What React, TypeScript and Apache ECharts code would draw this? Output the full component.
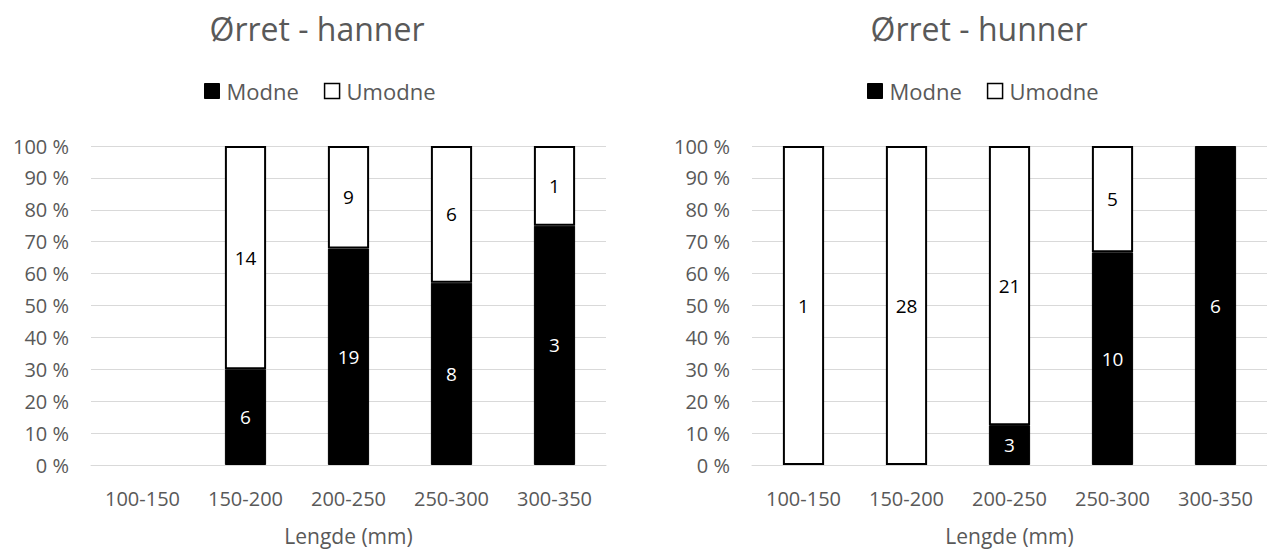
import React, { useEffect, useRef } from "react";
import * as echarts from "echarts";

const categories = ["100-150", "150-200", "200-250", "250-300", "300-350"];
const hannerModne = [0, 6, 19, 8, 3];
const hannerUmodne = [0, 14, 9, 6, 1];
const hunnerModne = [0, 0, 3, 10, 6];
const hunnerUmodne = [1, 28, 21, 5, 0];
const titles = ["Ørret - hanner", "Ørret - hunner"];
const yTicks = [0, 10, 20, 30, 40, 50, 60, 70, 80, 90, 100];

const FONT = "'Open Sans', 'Noto Sans', sans-serif";
const GREY = "#595959";

function pct(a: number[], b: number[], which: number[]) {
  return which.map((v, i) => {
    const t = a[i] + b[i];
    return t === 0 || v === 0 ? "-" : (v / t) * 100;
  });
}

export default function App() {
  const ref = useRef<HTMLDivElement>(null);
  useEffect(() => {
    if (!ref.current) return;
    const chart = echarts.init(ref.current, null, { renderer: "svg" });
    const sets = [
      { m: hannerModne, u: hannerUmodne },
      { m: hunnerModne, u: hunnerUmodne },
    ];
    const gridLefts = [91, 752];
    const series: any[] = [];
    sets.forEach((s, gi) => {
      const mp = pct(s.m, s.u, s.m);
      const up = pct(s.m, s.u, s.u);
      series.push({
        name: "Modne",
        type: "bar",
        stack: "s" + gi,
        xAxisIndex: gi,
        yAxisIndex: gi,
        barWidth: "40%",
        data: mp.map((v, i) => ({ value: v, count: s.m[i] })),
        itemStyle: { color: "#000", borderColor: "#000", borderWidth: 1 },
        label: {
          show: true,
          position: "inside",
          color: "#fff",
          fontSize: 19,
          fontFamily: FONT,
          formatter: (p: any) => (p.data.count ? String(p.data.count) : ""),
        },
      });
      series.push({
        name: "Umodne",
        type: "bar",
        stack: "s" + gi,
        xAxisIndex: gi,
        yAxisIndex: gi,
        barWidth: "40%",
        data: up.map((v, i) => ({ value: v, count: s.u[i] })),
        itemStyle: { color: "#fff", borderColor: "#000", borderWidth: 2 },
        label: {
          show: true,
          position: "inside",
          color: "#000",
          fontSize: 19,
          fontFamily: FONT,
          formatter: (p: any) => (p.data.count ? String(p.data.count) : ""),
        },
      });
    });
    chart.setOption({
      animation: false,
      textStyle: { fontFamily: FONT },
      title: titles.map((t, i) => ({
        text: t,
        left: [312, 974][i],
        textAlign: "center",
        top: 7,
        textStyle: { fontSize: 32, fontWeight: "normal", color: GREY, fontFamily: FONT },
      })),
      legend: [0, 1].map((i) => ({
        left: [199, 862][i],
        top: 75,
        itemWidth: 15,
        itemHeight: 15,
        itemGap: 25,
        icon: "rect",
        textStyle: { fontSize: 22, color: GREY, fontFamily: FONT, padding: [0, 0, 0, 2] },
        data: [
          { name: "Modne", itemStyle: { color: "#000", borderColor: "#000", borderWidth: 1 } },
          { name: "Umodne", itemStyle: { color: "#fff", borderColor: "#000", borderWidth: 1.5 } },
        ],
        selectedMode: false,
      })),
      grid: gridLefts.map((l) => ({ left: l, width: 515, top: 146, height: 322 })),
      xAxis: [0, 1].map((i) => ({
        type: "category",
        gridIndex: i,
        data: categories,
        axisTick: { show: false },
        axisLine: { lineStyle: { color: "#d9d9d9", width: 1 } },
        axisLabel: { fontSize: 20, color: GREY, fontFamily: FONT, margin: 23 },
        name: "Lengde (mm)",
        nameLocation: "middle",
        nameGap: 60,
        nameTextStyle: { fontSize: 21, color: GREY, fontFamily: FONT },
      })),
      yAxis: [0, 1].map((i) => ({
        type: "value",
        gridIndex: i,
        min: yTicks[0],
        max: yTicks[yTicks.length - 1],
        interval: 10,
        axisLine: { show: false },
        axisTick: { show: false },
        splitLine: { lineStyle: { color: "#d9d9d9", width: 1 } },
        axisLabel: {
          fontSize: 20,
          color: GREY,
          fontFamily: FONT,
          margin: 22,
          formatter: (v: number) => v + " %",
        },
      })),
      series,
    });
    return () => chart.dispose();
  }, []);
  return (
    <div
      ref={ref}
      style={{ position: "fixed", left: 0, top: 0, width: 1267, height: 551, background: "#fff" }}
    />
  );
}
